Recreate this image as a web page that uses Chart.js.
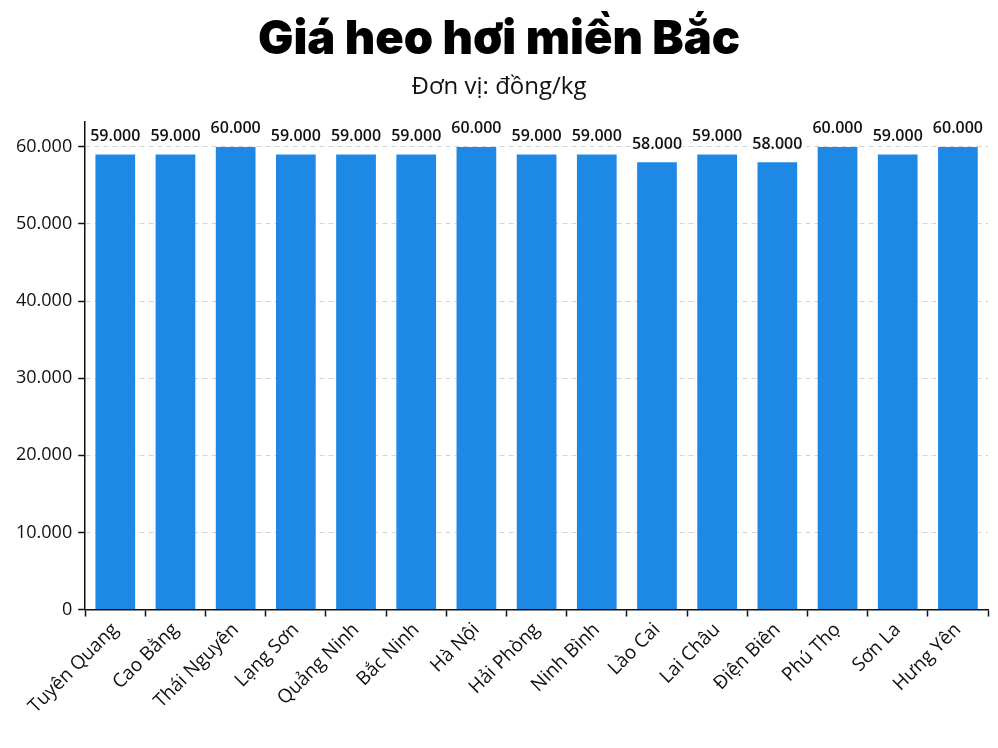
<!DOCTYPE html>
<html>
<head>
<meta charset="utf-8">
<script src="https://cdn.jsdelivr.net/npm/chart.js@4/dist/chart.umd.min.js"></script>
<style>
  html, body { margin: 0; padding: 0; background: #fff; }
  #wrap { width: 998px; height: 748px; }
</style>
</head>
<body>
<div id="wrap"><canvas id="priceChart"></canvas></div>
<script>
// provinces and hog prices (dong/kg)
const provinces = ['Tuyên Quang', 'Cao Bằng', 'Thái Nguyên', 'Lạng Sơn', 'Quảng Ninh', 'Bắc Ninh', 'Hà Nội',
    'Hải Phòng', 'Ninh Bình', 'Lào Cai', 'Lai Châu', 'Điện Biên', 'Phú Thọ', 'Sơn La', 'Hưng Yên'];
const prices = [59000, 59000, 60000, 59000, 59000, 59000, 60000, 59000, 59000, 58000, 59000, 58000, 60000, 59000, 60000];
const yTicks = [0, 10000, 20000, 30000, 40000, 50000, 60000];

function fmt(v) {
    return String(v).replace(/\B(?=(\d{3})+(?!\d))/g, '.');
}

// value labels above each bar
const barLabels = {
    id: 'barLabels',
    afterDatasetsDraw(chart) {
        const ctx = chart.ctx;
        const meta = chart.getDatasetMeta(0);
        ctx.save();
        ctx.font = '600 16px "Open Sans"';
        ctx.fillStyle = '#111';
        ctx.textAlign = 'center';
        ctx.textBaseline = 'bottom';
        meta.data.forEach((bar, i) => {
            ctx.fillText(fmt(prices[i]), bar.x, bar.y - 10);
        });
        ctx.restore();
    }
};

const ctx = document.getElementById('priceChart').getContext('2d');
new Chart(ctx, {
    type: 'bar',
    data: {
        labels: provinces,
        datasets: [{
            data: prices,
            backgroundColor: '#1e88e5',
            barPercentage: 0.66,
            categoryPercentage: 1.0
        }]
    },
    options: {
        responsive: true,
        maintainAspectRatio: false,
        animation: false,
        layout: { padding: { left: 10, right: 10, bottom: 28 } },
        scales: {
            x: {
                grid: { display: true, drawOnChartArea: false, tickColor: '#111', tickLength: 7, tickWidth: 1.5 },
                border: { color: '#111', width: 1.5 },
                ticks: {
                    color: '#111',
                    font: { family: 'Open Sans', size: 19 },
                    minRotation: 45,
                    maxRotation: 45,
                    padding: 2
                }
            },
            y: {
                min: 0,
                max: 63200,
                afterBuildTicks(scale) {
                    scale.ticks = yTicks.map(v => ({ value: v }));
                },
                grid: { color: '#d4d4d4', tickColor: '#111', tickLength: 7, tickWidth: 1.5 },
                border: { color: '#111', width: 1.5, dash: [5, 4] },
                ticks: {
                    color: '#111',
                    font: { family: 'Open Sans', size: 18 },
                    padding: 6,
                    callback: v => fmt(v)
                }
            }
        },
        plugins: {
            legend: { display: false },
            tooltip: { enabled: false },
            title: {
                display: true,
                text: 'Giá heo hơi miền Bắc',
                color: '#000',
                font: { family: 'Inter', size: 47, weight: '900' },
                padding: { top: 12, bottom: 4 }
            },
            subtitle: {
                display: true,
                text: 'Đơn vị: đồng/kg',
                color: '#111',
                font: { family: 'Open Sans', size: 24 },
                padding: { bottom: 21 }
            }
        }
    },
    plugins: [barLabels]
});
</script>
</body>
</html>
